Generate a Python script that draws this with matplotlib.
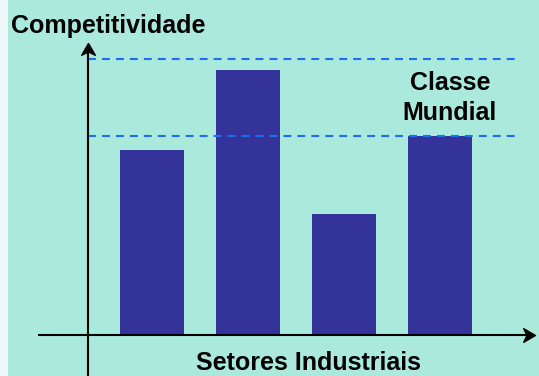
import matplotlib.pyplot as plt
from matplotlib.patches import Rectangle
from matplotlib.path import Path
from matplotlib.transforms import Affine2D

# setores e nivel de competitividade
setores = ['A', 'B', 'C', 'D']
competitividade = [67, 96, 44, 72]
# faixa "Classe Mundial"
classe_mundial = [72, 100]

plt.rcParams['font.family'] = ['Liberation Sans', 'DejaVu Sans']

W, H = 539, 376
fig = plt.figure(figsize=(W / 100, H / 100), dpi=100)
fig.patch.set_facecolor('#aae9dc')
# faixa clara na borda esquerda
fig.patches.append(Rectangle((0, 0), 8 / W, 1, transform=fig.transFigure,
                             facecolor='#eef8f8', edgecolor='none', zorder=0))

ax = fig.add_axes([0, 0, 1, 1])
ax.set_facecolor('none')
ax.axis('off')

x = list(range(len(setores)))
ax.bar(x, competitividade, width=0.667, color='#333399', zorder=2)
ax.set_xlim(-1.583, 4.031)
ax.set_ylim(-14.9, 121.4)

# linhas tracejadas da faixa
for v in classe_mundial:
    ax.plot([-0.667, 3.78], [v, v], color='#1e6ef0', lw=1.5,
            linestyle=(0, (3.8, 2.9)), zorder=3)

# ponta de seta com entalhe (aponta para +x, ponta na origem)
seta = Path([(0, 0), (-1, 0.58), (-0.72, 0), (-1, -0.58), (0, 0)],
            [Path.MOVETO, Path.LINETO, Path.LINETO, Path.LINETO, Path.CLOSEPOLY])
seta_cima = seta.transformed(Affine2D().rotate_deg(90))

# eixo y
y_x, y_top = -0.667, 105.8
ax.plot([y_x, y_x], [-14.9, y_top - 3], color='black', lw=1.5, zorder=4)
ax.plot([y_x], [y_top], marker=seta_cima, ms=17, color='black', zorder=5)
# eixo x
x_left, x_right = -1.177, 3.99
ax.plot([x_left, x_right - 0.1], [0, 0], color='black', lw=1.5, zorder=4)
ax.plot([x_right], [0], marker=seta, ms=17, color='black', zorder=5)

kw = dict(fontsize=18, fontweight='bold', va='baseline')
fig.text(11 / W, 1 - 33.5 / H, 'Competitividade', ha='left', **kw)
fig.text(450 / W, 1 - 89.5 / H, 'Classe', ha='center', **kw)
fig.text(450 / W, 1 - 119.5 / H, 'Mundial', ha='center', **kw)
fig.text(308 / W, 1 - 369.5 / H, 'Setores Industriais', ha='center', **kw)

fig.savefig('out.png', dpi=100, facecolor=fig.get_facecolor())
